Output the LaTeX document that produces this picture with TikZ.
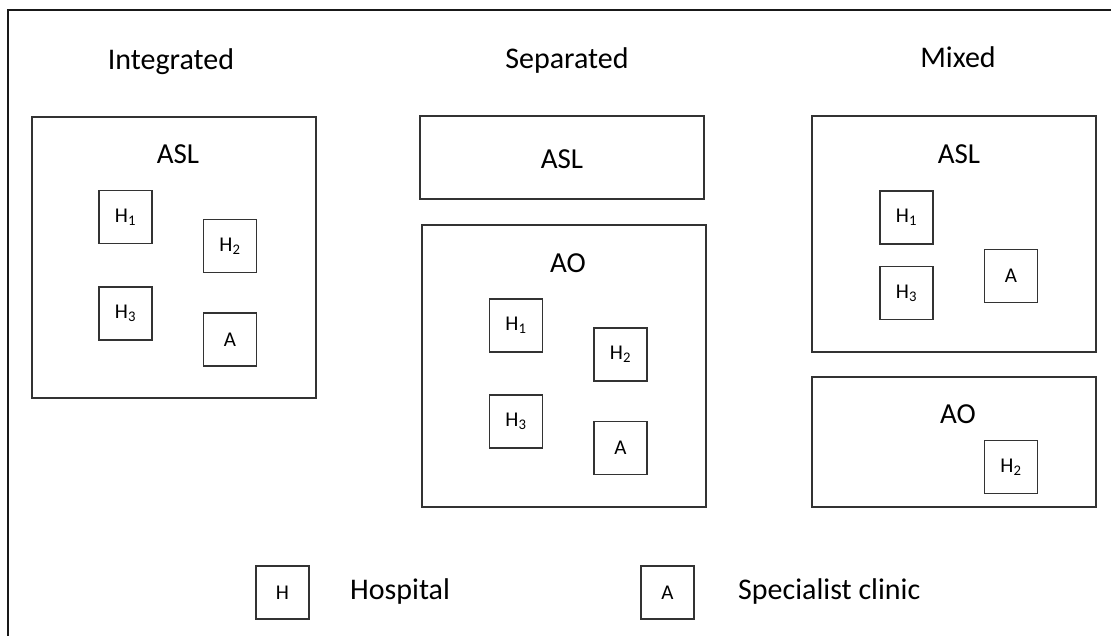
\documentclass[tikz,border=0pt]{standalone}
\usepackage{fontspec}
\setmainfont{Carlito}
\begin{document}
\begin{tikzpicture}[x=1pt,y=-1pt,
  title/.style={anchor=base,font=\fontsize{30}{36}\selectfont,inner sep=0pt},
  grouptext/.style={anchor=base,font=\fontsize{29}{35}\selectfont,inner sep=0pt},
  legendtext/.style={anchor=base west,font=\fontsize{30}{36}\selectfont,inner sep=0pt},
  groupbox/.style={draw=black!80,line width=1.4pt,inner sep=0pt},
  unit/.style={draw=black!80,line width=1.4pt,minimum width=53pt,minimum height=53pt,
               inner sep=0pt,font=\fontsize{21}{25}\selectfont}]
\useasboundingbox (0,0) rectangle (1111,635);
% outer frame (open towards right and bottom)
\draw[line width=2pt,black!90] (8,636) -- (8,10) -- (1112,10);

% column titles
\node[title] (tInt) at (171,69) {Integrated};
\node[title] (tSep) at (567,68) {Separated};
\node[title] (tMix) at (958,67) {Mixed};

% ---- Integrated ----
\node[groupbox,minimum width=284pt,minimum height=281pt] (intASL) at (174,257.5) {};
\node[grouptext] (intASLt) at (178,163) {ASL};
\node[unit] (intH1) at (125.5,217) {H\textsubscript{1}};
\node[unit] (intH2) at (230,246) {H\textsubscript{2}};
\node[unit] (intH3) at (125.5,313.5) {H\textsubscript{3}};
\node[unit] (intA)  at (230,339.5) {A};

% ---- Separated ----
\node[groupbox,minimum width=284pt,minimum height=83pt] (sepASL) at (562,157.5) {};
\node[grouptext] (sepASLt) at (562,168) {ASL};
\node[groupbox,minimum width=284pt,minimum height=282pt] (sepAO) at (564,366) {};
\node[grouptext] (sepAOt) at (568,272) {AO};
\node[unit] (sepH1) at (516,325.5) {H\textsubscript{1}};
\node[unit] (sepH2) at (620.5,354.5) {H\textsubscript{2}};
\node[unit] (sepH3) at (516,421.5) {H\textsubscript{3}};
\node[unit] (sepA)  at (620.5,448) {A};

% ---- Mixed ----
\node[groupbox,minimum width=284pt,minimum height=236pt] (mixASL) at (954,234) {};
\node[grouptext] (mixASLt) at (959,163) {ASL};
\node[unit] (mixH1) at (906.5,217.5) {H\textsubscript{1}};
\node[unit] (mixH3) at (906.5,293) {H\textsubscript{3}};
\node[unit] (mixA)  at (1011,276) {A};
\node[groupbox,minimum width=284pt,minimum height=130pt] (mixAO) at (954,442) {};
\node[grouptext] (mixAOt) at (958,423) {AO};
\node[unit] (mixH2) at (1011,467) {H\textsubscript{2}};

% ---- legend ----
\node[unit] (legH) at (282.5,592.5) {H};
\node[legendtext] (legHt) at (350,599) {Hospital};
\node[unit] (legA) at (667.5,592.5) {A};
\node[legendtext] (legAt) at (738,599) {Specialist clinic};
\end{tikzpicture}
\end{document}
